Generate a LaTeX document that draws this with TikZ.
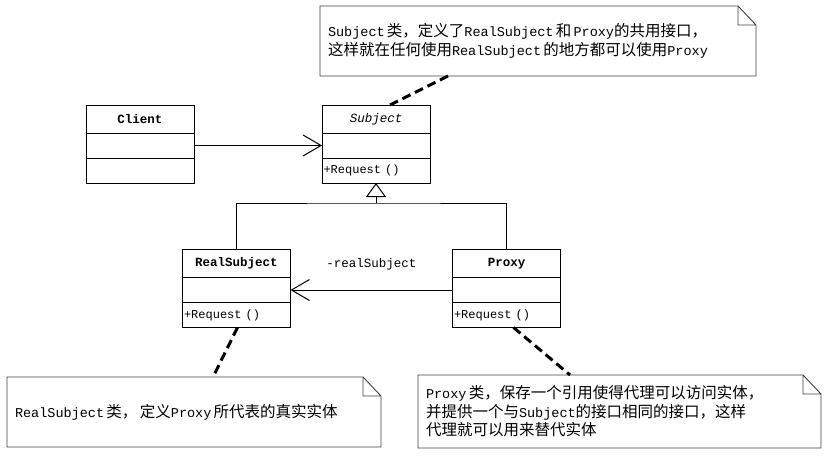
\documentclass[tikz,border=0pt]{standalone}
\usepackage{fontspec}
\setmainfont{Liberation Mono}
\newfontfamily\zhfont{Noto Sans CJK SC}
\newcommand\zh{\zhfont\fontsize{15.5}{18.5}\selectfont}
\usetikzlibrary{arrows.meta,positioning}

\tikzset{
  classhead/.style={draw,line width=1pt,outer sep=0pt,inner sep=0pt,
    minimum width=108pt,minimum height=28pt,font=\bfseries\fontsize{12.5}{15}\selectfont},
  classpart/.style={draw,line width=1pt,outer sep=0pt,inner xsep=1.5pt,inner ysep=0pt,
    text width=105pt,minimum height=25pt,align=left,font=\fontsize{12}{14}\selectfont},
  note/.style={outer sep=0pt,inner xsep=8pt,inner ysep=0pt,align=left,
    anchor=north west,font=\fontsize{13.5}{18.5}\selectfont},
  notebox/.style={draw=black!75,line width=0.9pt},
  assoc/.style={line width=1pt,-{Straight Barb[length=18pt,width=21pt]}},
  inherit/.style={line width=1pt},
  attach/.style={line width=3pt,dash pattern=on 9pt off 5pt}
}

\begin{document}
\begin{tikzpicture}[x=1pt,y=-1pt]
	\useasboundingbox (0,0) rectangle (834,460);

	% classes
	\node[classhead] (client) at (140,119) {Client};
	\node[classpart] (client-m) [below=0pt of client] {};
	\node[classpart] (client-b) [below=0pt of client-m] {};

	\node[classhead] (subject) at (376,119) {\mdseries\itshape Subject};
	\node[classpart] (subject-m) [below=0pt of subject] {};
	\node[classpart] (subject-b) [below=0pt of subject-m] {+Request ()};

	\node[classhead] (real) at (236.5,263.5) {RealSubject};
	\node[classpart] (real-m) [below=0pt of real] {};
	\node[classpart] (real-b) [below=0pt of real-m] {+Request ()};

	\node[classhead] (proxy) at (506.5,263.5) {Proxy};
	\node[classpart] (proxy-m) [below=0pt of proxy] {};
	\node[classpart] (proxy-b) [below=0pt of proxy-m] {+Request ()};

	% notes
	\node[note,minimum width=436pt,minimum height=70pt,text width=420pt] (subjnote) at (320,6)
	  {Subject\,{\zh 类，定义了}RealSubject\,{\zh 和}\,Proxy{\zh 的共用接口，}\\
	   {\zh 这样就在任何使用}RealSubject\,{\zh 的地方都可以使用}Proxy};
	\node[note,minimum width=374pt,minimum height=70pt,text width=358pt] (realnote) at (7,377)
	  {RealSubject\,{\zh 类，\,定义}Proxy\,{\zh 所代表的真实实体}};
	\node[note,minimum width=403pt,minimum height=73pt,text width=387pt] (proxynote) at (418,375)
	  {Proxy\,{\zh 类，保存一个引用使得代理可以访问实体，}\\
	   {\zh 并提供一个与}Subject{\zh 的接口相同的接口，这样}\\
	   {\zh 代理就可以用来替代实体}};

	\foreach \n in {subjnote,realnote,proxynote}
	  \draw[notebox] (\n.north west) -- ([xshift=-18pt]\n.north east)
	    -- ([yshift=-19pt]\n.north east) -- (\n.south east) -- (\n.south west) -- cycle
	    ([xshift=-18pt]\n.north east) |- ([yshift=-19pt]\n.north east);

	% relations
	\draw[assoc] (client-m) -- (subject-m);
	\draw[assoc] (proxy-m) -- node[above=16pt,font=\fontsize{12.5}{15}\selectfont] {-realSubject} (real-m);

	\coordinate (fork) at ([yshift=-20pt]subject-b.south);
	\draw[inherit] (real.north) |- (fork) -| (proxy.north);
	\draw[inherit,-{Triangle[open,length=14pt,width=20pt]}] (fork) -- (subject-b.south);

	\draw[attach] ([xshift=128pt]subjnote.south west) -- ([xshift=14pt]subject.north);
	\draw[attach] ([xshift=1pt]real-b.south) -- ([xshift=206pt]realnote.north west);
	\draw[attach] ([xshift=7pt]proxy-b.south) -- ([xshift=152pt]proxynote.north west);
\end{tikzpicture}
\end{document}
